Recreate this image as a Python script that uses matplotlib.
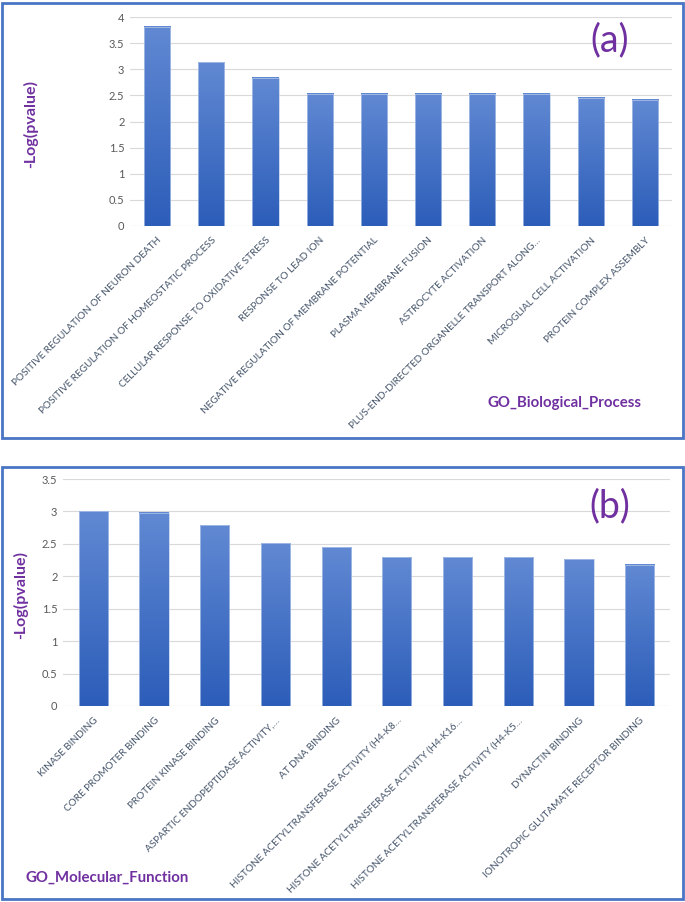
import numpy as np
import matplotlib
matplotlib.use('Agg')
import matplotlib.pyplot as plt
from matplotlib.patches import Rectangle
from matplotlib.colors import LinearSegmentedColormap

plt.rcParams['font.family'] = ['Lato', 'DejaVu Sans']

# panel (a) data
bp_terms = ['POSITIVE REGULATION OF NEURON DEATH',
            'POSITIVE REGULATION OF HOMEOSTATIC PROCESS',
            'CELLULAR RESPONSE TO OXIDATIVE STRESS',
            'RESPONSE TO LEAD ION',
            'NEGATIVE REGULATION OF MEMBRANE POTENTIAL',
            'PLASMA MEMBRANE FUSION',
            'ASTROCYTE ACTIVATION',
            'PLUS-END-DIRECTED ORGANELLE TRANSPORT ALONG…',
            'MICROGLIAL CELL ACTIVATION',
            'PROTEIN COMPLEX ASSEMBLY']
bp_values = [3.81, 3.13, 2.84, 2.53, 2.53, 2.53, 2.53, 2.53, 2.45, 2.42]
bp_ticks = [0, 0.5, 1, 1.5, 2, 2.5, 3, 3.5, 4]

# panel (b) data
mf_terms = ['KINASE BINDING',
            'CORE PROMOTER BINDING',
            'PROTEIN KINASE BINDING',
            'ASPARTIC ENDOPEPTIDASE ACTIVITY,…',
            'AT DNA BINDING',
            'HISTONE ACETYLTRANSFERASE ACTIVITY (H4-K8…',
            'HISTONE ACETYLTRANSFERASE ACTIVITY (H4-K16…',
            'HISTONE ACETYLTRANSFERASE ACTIVITY (H4-K5…',
            'DYNACTIN BINDING',
            'IONOTROPIC GLUTAMATE RECEPTOR BINDING']
mf_values = [3.00, 2.98, 2.79, 2.51, 2.45, 2.29, 2.29, 2.29, 2.26, 2.18]
mf_ticks = [0, 0.5, 1, 1.5, 2, 2.5, 3, 3.5]

purple = '#7030A0'
frame_blue = '#4A74C4'
grad = LinearSegmentedColormap.from_list('bar', ['#2C5DB9', '#6189D3'])

W, H = 685, 902
fig = plt.figure(figsize=(W / 100, H / 100), dpi=100)


def draw_panel(rect, terms, values, ticks):
    ax = fig.add_axes(rect)
    x = np.arange(len(terms))
    bars = ax.bar(x, values, width=0.48, color='none', edgecolor='#B8CAEA',
                  linewidth=0.5, zorder=3)
    g = np.linspace(0, 1, 256).reshape(-1, 1)
    for b in bars:
        x0 = b.get_x()
        ax.imshow(g, extent=[x0, x0 + b.get_width(), 0, b.get_height()],
                  origin='lower', aspect='auto', cmap=grad, zorder=2,
                  interpolation='bilinear')
    ax.set_xlim(-0.5, len(terms) - 0.5)
    ax.set_ylim(0, ticks[-1])
    ax.set_yticks(ticks)
    ax.set_yticklabels([f'{t:g}' for t in ticks], fontsize=8, color='#595959')
    ax.set_xticks(x)
    ax.set_xticklabels(terms, rotation=45, ha='right', rotation_mode='anchor',
                       fontsize=7.2, color='#44546A')
    ax.tick_params(length=0, pad=4)
    ax.tick_params(axis='x', pad=7)
    ax.grid(axis='y', color='#D9D9D9', linewidth=0.8, zorder=0)
    for s in ax.spines.values():
        s.set_visible(False)
    ax.axhline(0, color='#D9D9D9', linewidth=0.8, zorder=1)
    return ax


ax1 = draw_panel([130 / W, 1 - 226 / H, 542 / W, 209 / H], bp_terms, bp_values, bp_ticks)
ax2 = draw_panel([63 / W, 1 - 706 / H, 607 / W, 227 / H], mf_terms, mf_values, mf_ticks)

# y labels
fig.text(31 / W, 1 - 124 / H, '-Log(pvalue)', rotation=90, ha='center', va='center',
         fontsize=11.5, fontweight='bold', color=purple)
fig.text(21 / W, 1 - 595 / H, '-Log(pvalue)', rotation=90, ha='center', va='center',
         fontsize=11.5, fontweight='bold', color=purple)

# panel tags
fig.text(610 / W, 1 - 40 / H, '(a)', ha='center', va='center', fontsize=27, color=purple)
fig.text(610 / W, 1 - 506 / H, '(b)', ha='center', va='center', fontsize=27, color=purple)

fig.text(565 / W, 1 - 403 / H, 'GO_Biological_Process', ha='center', va='center',
         fontsize=10.8, fontweight='bold', color=purple)
fig.text(26 / W, 1 - 878 / H, 'GO_Molecular_Function', ha='left', va='center',
         fontsize=10.8, fontweight='bold', color=purple)

# panel frames
fig.patches.append(Rectangle((2 / W, 1 - 438 / H), 681 / W, 435 / H, transform=fig.transFigure,
                             fill=False, edgecolor=frame_blue, linewidth=2))
fig.patches.append(Rectangle((2 / W, 1 - 899 / H), 681 / W, 432 / H, transform=fig.transFigure,
                             fill=False, edgecolor=frame_blue, linewidth=2))

fig.savefig('out.png', dpi=100)
